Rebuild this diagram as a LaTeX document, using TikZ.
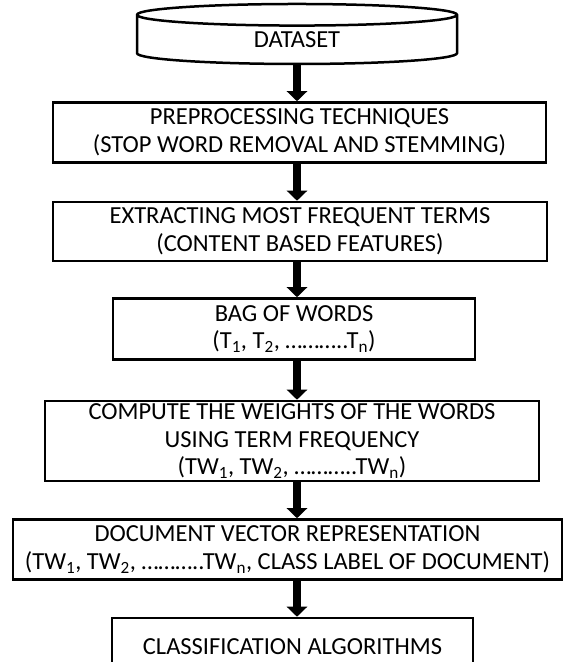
\documentclass[tikz,border=0pt]{standalone}
\usepackage{fontspec}
\setmainfont{Carlito}
\usetikzlibrary{positioning,shapes.geometric,arrows.meta}

\tikzset{
  stage/.style={draw, line width=2.5pt, rectangle, align=center, inner sep=0pt,
    font=\fontsize{24.5}{27.5}\selectfont},
  store/.style={draw, line width=2.5pt, cylinder, shape border rotate=90,
    shape aspect=0.25, inner sep=0pt, font=\fontsize{24.5}{27.5}\selectfont},
  flow/.style={line width=8pt, -{Triangle[length=10pt,width=20pt]}}
}

\begin{document}
\begin{tikzpicture}[x=1pt, y=1pt, node distance=36pt]
			\useasboundingbox (0,0) rectangle (563,-662);
			\node[store, minimum width=320pt, minimum height=60pt] (ds) at (297,-40) {DATASET};
			\node[stage, minimum width=493pt, minimum height=60pt] (pre) [below=of ds, xshift=2.5pt]
				{PREPROCESSING TECHNIQUES\\(STOP WORD REMOVAL AND STEMMING)};
			\node[stage, minimum width=494pt, minimum height=59pt] (ext) [below=37pt of pre, xshift=0.5pt]
				{EXTRACTING MOST FREQUENT TERMS\\(CONTENT BASED FEATURES)};
			\node[stage, minimum width=362pt, minimum height=61pt] (bag) [below=35pt of ext, xshift=-6pt]
				{BAG OF WORDS\\(T\textsubscript{1}, T\textsubscript{2}, \ldots\ldots\ldots..T\textsubscript{n})};
			\node[stage, minimum width=494pt, minimum height=80pt] (tw) [below=39pt of bag, xshift=-2pt]
				{COMPUTE THE WEIGHTS OF THE WORDS\\USING TERM FREQUENCY\\(TW\textsubscript{1}, TW\textsubscript{2}, \ldots\ldots\ldots..TW\textsubscript{n})};
			\node[stage, minimum width=549pt, minimum height=60pt] (vec) [below=of tw, xshift=-4.5pt]
				{DOCUMENT VECTOR REPRESENTATION\\(TW\textsubscript{1}, TW\textsubscript{2}, \ldots\ldots\ldots..TW\textsubscript{n}, CLASS LABEL OF DOCUMENT)};
			\node[stage, minimum width=361pt, minimum height=58pt] (cls) [below=of vec, xshift=5pt]
				{CLASSIFICATION ALGORITHMS};

			\draw[flow] (ds.south) -- (ds.south |- pre.north);
			\draw[flow] (ds.south |- pre.south) -- (ds.south |- ext.north);
			\draw[flow] (ds.south |- ext.south) -- (ds.south |- bag.north);
			\draw[flow] (ds.south |- bag.south) -- (ds.south |- tw.north);
			\draw[flow] (ds.south |- tw.south) -- (ds.south |- vec.north);
			\draw[flow] (ds.south |- vec.south) -- (ds.south |- cls.north);
		\end{tikzpicture}
\end{document}
